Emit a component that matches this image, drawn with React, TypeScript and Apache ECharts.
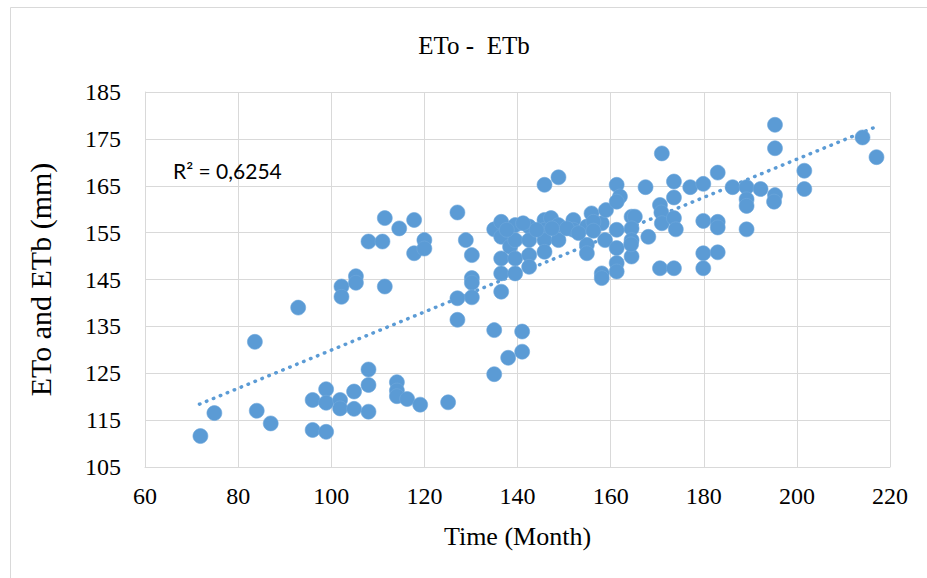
import React, { useEffect, useRef } from "react";
import * as echarts from "echarts";

// Scatter points: time (month) and ETo/ETb (mm)
const xValues: number[] = [
  71.9, 74.9, 83.6, 84.0, 87.0, 92.9, 96.0, 96.0, 98.9, 98.9, 98.9,
  101.9, 101.9, 104.9, 104.9, 102.2, 102.2, 105.3, 105.3,
  108.0, 108.0, 108.0, 114.1, 114.1, 114.1, 116.3, 119.1, 125.1,
  108.0, 111.0, 111.5, 114.6, 117.8, 117.8, 120.0, 120.0, 111.5,
  127.1, 128.9, 130.2, 130.2, 130.2, 130.2, 127.1, 127.1,
  135.0, 135.0, 138.0, 141.0, 141.0, 136.5,
  135.0, 136.5, 136.5, 136.5, 136.5, 138.4, 139.5, 139.5, 139.5, 139.5,
  142.5, 142.5, 142.5, 142.5, 145.8, 148.8, 145.8, 145.8, 145.8, 145.8,
  147.2, 148.8, 148.8, 152.0, 152.0, 154.9, 154.9, 154.9, 155.9, 158.1,
  159.0, 158.8, 158.1, 158.1, 144.1, 141.2, 137.7, 150.6, 147.4, 153.1,
  156.3, 156.3,
  161.3, 162.0, 161.3, 161.3, 161.3, 161.3, 161.3, 164.5, 165.2, 164.5,
  164.5, 164.5, 164.4, 167.5, 168.1,
  170.6, 170.9, 171.0, 170.6, 171.0, 173.6, 173.6, 173.6, 174.0, 173.6,
  177.1, 179.9, 179.9, 179.9, 179.9, 183.0, 183.0, 183.0, 183.0, 186.2,
  189.2, 189.2, 189.2, 189.2, 192.2, 195.3, 195.3, 195.3, 195.1, 201.6,
  201.6, 214.1, 217.1,
];
const yValues: number[] = [
  111.6, 116.5, 131.7, 117.0, 114.3, 139.0, 119.3, 112.9, 121.6, 118.7, 112.5,
  119.3, 117.5, 121.1, 117.4, 143.5, 141.3, 145.7, 144.3,
  125.8, 122.5, 116.8, 123.1, 121.3, 120.1, 119.5, 118.3, 118.8,
  153.1, 153.1, 158.1, 155.9, 157.7, 150.6, 153.4, 151.6, 143.5,
  159.3, 153.4, 150.2, 145.3, 144.3, 141.2, 141.0, 136.4,
  134.2, 124.8, 128.3, 129.6, 133.9, 142.4,
  155.7, 157.3, 154.1, 149.5, 146.3, 152.0, 156.6, 153.4, 149.5, 146.3,
  156.3, 153.4, 150.2, 147.7, 165.2, 166.8, 157.7, 155.6, 153.4, 150.9,
  158.1, 156.6, 153.4, 157.7, 155.6, 156.3, 152.4, 150.6, 159.1, 157.0,
  159.8, 153.4, 146.3, 145.3, 155.6, 157.0, 155.6, 155.9, 155.9, 154.9,
  157.3, 155.4,
  165.2, 162.7, 161.6, 155.6, 151.7, 148.5, 146.7, 158.4, 158.4, 155.9,
  153.4, 149.9, 152.5, 164.7, 154.1,
  160.9, 159.3, 157.0, 147.4, 171.9, 165.9, 162.5, 158.1, 155.7, 147.4,
  164.7, 165.4, 157.5, 150.6, 147.4, 167.8, 157.3, 156.1, 150.8, 164.7,
  164.7, 162.1, 160.7, 155.7, 164.3, 178.0, 173.0, 163.0, 161.6, 168.2,
  164.3, 175.3, 171.1,
];

// Linear trend line end points
const trendX: number[] = [71.7, 216.8];
const trendY: number[] = [118.4, 177.5];

const xTicks = { min: 60, max: 220, interval: 20 };
const yTicks = { min: 105, max: 185, interval: 10 };

const titleText = "ETo -  ETb";
const xAxisName = "Time (Month)";
const yAxisName = "ETo and ETb (mm)";
const r2Text = "R² = 0,6254";

const BLUE = "#5B9BD5";
const GRID = "#D9D9D9";
const SERIF = "Liberation Serif";

export default function App() {
  const ref = useRef<HTMLDivElement>(null);

  useEffect(() => {
    if (!ref.current) return;
    const chart = echarts.init(ref.current, undefined, { renderer: "svg" });
    const points = xValues.map((x, i) => [x, yValues[i]]);
    const trend = trendX.map((x, i) => [x, trendY[i]]);

    chart.setOption({
      animation: false,
      backgroundColor: "#ffffff",
      textStyle: { fontFamily: SERIF },
      grid: { left: 145, right: 37, top: 92, bottom: 111, containLabel: false },
      graphic: [
        {
          type: "rect",
          shape: { x: 10.5, y: 7.5, width: 960, height: 620 },
          style: { fill: "none", stroke: GRID, lineWidth: 1 },
          silent: true,
          z: -10,
        },
        {
          type: "text",
          x: 474,
          y: 45,
          style: {
            text: titleText,
            fill: "#000",
            fontFamily: SERIF,
            fontSize: 25,
            align: "center",
            verticalAlign: "middle",
          },
        },
        {
          type: "text",
          x: 173,
          y: 170,
          style: {
            text: r2Text,
            fill: "#000",
            fontFamily: "Lato",
            fontSize: 21,
            align: "left",
            verticalAlign: "middle",
          },
          z: 100,
        },
      ],
      xAxis: {
        type: "value",
        min: xTicks.min,
        max: xTicks.max,
        interval: xTicks.interval,
        name: xAxisName,
        nameLocation: "middle",
        nameGap: 56,
        nameTextStyle: { fontFamily: SERIF, fontSize: 26, color: "#000" },
        axisLine: { show: true, lineStyle: { color: GRID, width: 1 } },
        axisTick: { show: false },
        axisLabel: { fontFamily: SERIF, fontSize: 24, color: "#000", margin: 17 },
        splitLine: { show: true, lineStyle: { color: GRID, width: 1 } },
      },
      yAxis: {
        type: "value",
        min: yTicks.min,
        max: yTicks.max,
        interval: yTicks.interval,
        name: yAxisName,
        nameLocation: "middle",
        nameGap: 90,
        nameTextStyle: { fontFamily: SERIF, fontSize: 30, color: "#000" },
        axisLine: { show: true, lineStyle: { color: GRID, width: 1 } },
        axisTick: { show: false },
        axisLabel: { fontFamily: SERIF, fontSize: 24, color: "#000", margin: 24 },
        splitLine: { show: true, lineStyle: { color: GRID, width: 1 } },
      },
      series: [
        {
          name: "ETo - ETb",
          type: "scatter",
          data: points,
          symbol: "circle",
          symbolSize: 15,
          itemStyle: { color: BLUE, borderColor: "#6FA8DC", borderWidth: 0.6, opacity: 1 },
          z: 3,
        },
        {
          name: "Linear trend",
          type: "line",
          data: trend,
          showSymbol: false,
          symbol: "none",
          lineStyle: { color: BLUE, width: 3.5, type: [0.5, 7], cap: "round" },
          z: 2,
          silent: true,
        },
      ],
    });

    return () => chart.dispose();
  }, []);

  return (
    <div
      ref={ref}
      style={{ position: "fixed", left: 0, top: 0, width: 927, height: 578 }}
    />
  );
}
